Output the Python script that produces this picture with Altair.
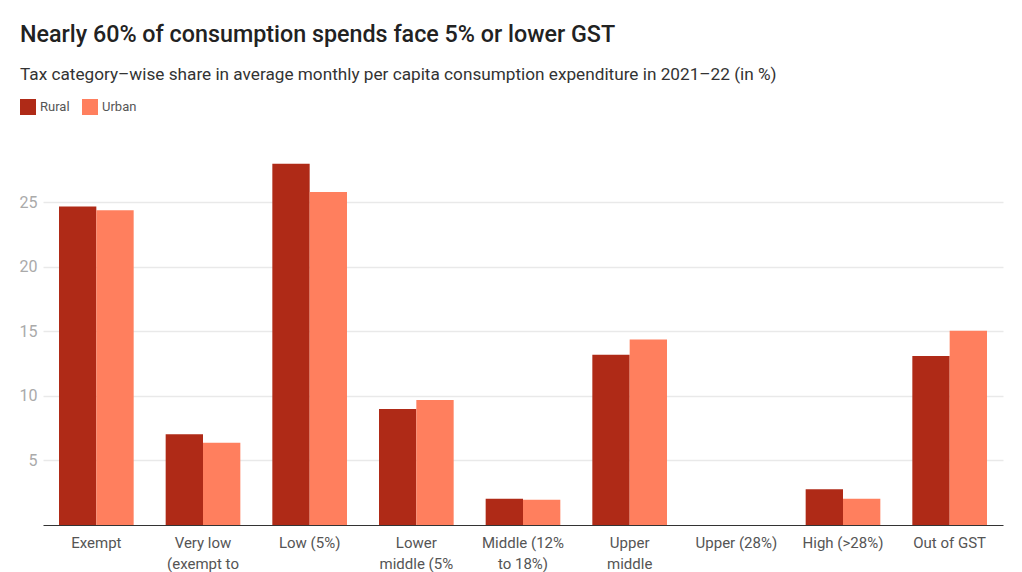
import altair as alt
import pandas as pd

categories = [
    "Exempt",
    "Very low (exempt to 5%)",
    "Low (5%)",
    "Lower middle (5% to 12%)",
    "Middle (12% to 18%)",
    "Upper middle (18% to 28%)",
    "Upper (28%)",
    "High (>28%)",
    "Out of GST",
]
label_lines = [
    ["Exempt"],
    ["Very low", "(exempt to", "5%)"],
    ["Low (5%)"],
    ["Lower", "middle (5%", "to 12%)"],
    ["Middle (12%", "to 18%)"],
    ["Upper", "middle", "(18% to 28%)"],
    ["Upper (28%)"],
    ["High (>28%)"],
    ["Out of GST"],
]
rural = [24.67, 7.03, 27.98, 8.98, 2.04, 13.18, 0.0, 2.77, 13.08]
urban = [24.37, 6.36, 25.79, 9.67, 1.96, 14.37, 0.0, 2.04, 15.04]
series = ["Rural", "Urban"]
colors = ["#AF2A17", "#FF7F5E"]

FONT = "Roboto"

rows = []
for c, r, u in zip(categories, rural, urban):
    rows.append({"category": c, "area": "Rural", "value": r})
    rows.append({"category": c, "area": "Urban", "value": u})
df = pd.DataFrame(rows)

# label expression mapping full category name to wrapped lines
parts = []
for c, lines in zip(categories, label_lines):
    arr = "[" + ",".join("'" + l + "'" for l in lines) + "]"
    parts.append(f"datum.value === '{c}' ? {arr}")
label_expr = " : ".join(parts) + " : datum.value"

chart = (
    alt.Chart(df)
    .mark_bar()
    .encode(
        x=alt.X(
            "category:N",
            sort=categories,
            title=None,
            scale=alt.Scale(paddingInner=0.3, paddingOuter=0.15),
            axis=alt.Axis(
                labelExpr=label_expr,
                labelAngle=0,
                labelFont=FONT,
                labelFontSize=15,
                labelColor="#555555",
                labelLineHeight=21,
                labelPadding=10,
                labelBaseline="top",
                ticks=False,
                domainColor="#333333",
                domainWidth=1,
                labelLimit=200,
            ),
        ),
        xOffset=alt.XOffset("area:N", sort=series),
        y=alt.Y(
            "value:Q",
            title=None,
            scale=alt.Scale(domain=[0, 29.5], nice=False),
            axis=alt.Axis(
                values=[5, 10, 15, 20, 25],
                domain=False,
                ticks=False,
                labelFont=FONT,
                labelFontSize=16,
                labelColor="#aaaaaa",
                labelPadding=6,
                gridColor="#e9e9e9",
                gridWidth=1.5,
            ),
        ),
        color=alt.Color(
            "area:N",
            sort=series,
            scale=alt.Scale(domain=series, range=colors),
            legend=alt.Legend(
                title=None,
                orient="none",
                legendX=-23,
                legendY=-45,
                direction="horizontal",
                symbolType="square",
                symbolSize=256,
                symbolStrokeWidth=0,
                symbolOpacity=1,
                labelFont=FONT,
                labelFontSize=13,
                labelColor="#555555",
                columnPadding=12,
                labelOffset=4,
            ),
        ),
    )
    .properties(
        width=960,
        height=381,
        autosize=alt.AutoSizeParams(type="none"),
        padding={"left": 35, "top": 136, "right": 11, "bottom": 60},
        title=alt.TitleParams(
            text="Nearly 60% of consumption spends face 5% or lower GST",
            subtitle="Tax category\u2013wise share in average monthly per capita consumption expenditure in 2021\u201322 (in %)",
            anchor="start",
            frame="group",
            dx=-23,
            offset=15,
            font=FONT,
            fontSize=23.3,
            fontWeight=500,
            color="#222222",
            subtitleFont=FONT,
            subtitleFontSize=17.2,
            subtitleColor="#333333",
            subtitlePadding=19,
        ),
    )
    .configure_view(stroke=None)
)

chart.save("out.html", embed_options={"renderer": "svg", "actions": False})
